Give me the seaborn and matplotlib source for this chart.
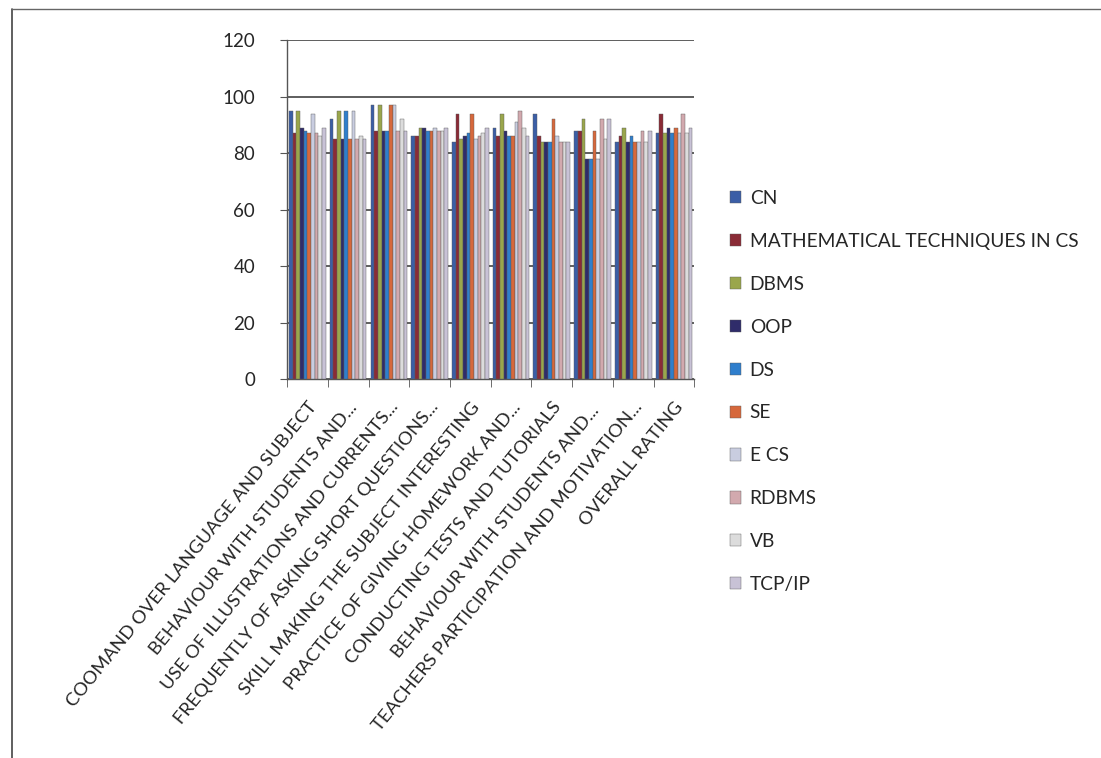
import matplotlib
matplotlib.use("Agg")
import matplotlib.pyplot as plt
from matplotlib.lines import Line2D
import seaborn as sns
import pandas as pd
import numpy as np

# chart values
criteria = [
    "COOMAND OVER LANGUAGE AND SUBJECT",
    "BEHAVIOUR WITH STUDENTS AND...",
    "USE OF ILLUSTRATIONS AND CURRENTS...",
    "FREQUENTLY OF ASKING SHORT QUESTIONS...",
    "SKILL MAKING THE SUBJECT INTERESTING",
    "PRACTICE OF GIVING HOMEWORK AND...",
    "CONDUCTING TESTS AND TUTORIALS",
    "BEHAVIOUR WITH STUDENTS AND... ",
    "TEACHERS PARTICIPATION AND MOTIVATION...",
    "OVERALL RATING",
]
subjects = ["CN", "MATHEMATICAL TECHNIQUES IN CS", "DBMS", "OOP", "DS",
            "SE", "E CS", "RDBMS", "VB", "TCP/IP"]

cn    = [95, 92, 97, 86, 84, 89, 94, 88, 84, 87]
math  = [87, 85, 88, 86, 94, 86, 86, 88, 86, 94]
dbms  = [95, 95, 97, 89, 85, 94, 84, 92, 89, 87]
oop   = [89, 85, 88, 89, 86, 88, 84, 78, 84, 89]
ds    = [88, 95, 88, 88, 87, 86, 84, 78, 86, 87]
se    = [87, 85, 97, 88, 94, 86, 92, 88, 84, 89]
ecs   = [94, 95, 97, 89, 85, 91, 86, 78, 84, 87]
rdbms = [87, 85, 88, 88, 86, 95, 84, 92, 88, 94]
vb    = [86, 86, 92, 88, 87, 89, 84, 85, 84, 87]
tcpip = [89, 85, 88, 89, 89, 86, 84, 92, 88, 89]

yticks = [0, 20, 40, 60, 80, 100, 120]

series = [cn, math, dbms, oop, ds, se, ecs, rdbms, vb, tcpip]
colors = ["#3b5ea6", "#8a2b36", "#9aa64c", "#2f2c6a", "#2f7ecc",
          "#d6683c", "#c9cde0", "#d2a9ae", "#dcdcdc", "#c8c2d6"]

rows = []
for s, vals in zip(subjects, series):
    for c, v in zip(criteria, vals):
        rows.append({"criterion": c, "subject": s, "score": v})
df = pd.DataFrame(rows)

sns.set_style("white")
plt.rcParams['font.family'] = ['Lato', 'DejaVu Sans']

fig = plt.figure(figsize=(11.01, 7.58), dpi=100)
ax = fig.add_axes([0.2607, 0.5, 0.370, 0.447])

sns.barplot(data=df, x="criterion", y="score", hue="subject",
            order=criteria, hue_order=subjects, palette=colors,
            saturation=1, width=0.9, ax=ax, zorder=3,
            edgecolor="#5a5a5a", linewidth=0.3)

ax.set_ylim(0, 120)
ax.set_xlim(-0.5, len(criteria) - 0.5)
ax.set_yticks(yticks)
ax.set_yticklabels([str(t) for t in yticks], fontsize=13.5)
ax.yaxis.grid(True, color="#333333", linewidth=1.1, zorder=0)
ax.set_axisbelow(True)
ax.set_xlabel("")
ax.set_ylabel("")

for s in ["top", "right"]:
    ax.spines[s].set_visible(False)
for s in ["left", "bottom"]:
    ax.spines[s].set_color("#555555")
    ax.spines[s].set_linewidth(1)

ax.tick_params(axis="y", left=True, length=5, color="#555555", pad=18)
ax.set_xticks(range(len(criteria)))
ax.set_xticklabels(criteria, rotation=51, ha="right", rotation_mode="anchor",
                   fontsize=13.3)
ax.tick_params(axis="x", bottom=False, pad=11)
ax.set_xticks(np.arange(-0.5, len(criteria), 1), minor=True)
ax.tick_params(axis="x", which="minor", bottom=True, length=6, color="#555555")

handles, labels = ax.get_legend_handles_labels()
ax.legend(handles, labels, loc="upper left", bbox_to_anchor=(0.647, 0.772),
          bbox_transform=fig.transFigure, frameon=False, fontsize=13.8,
          handlelength=0.6, handleheight=0.6, handletextpad=0.45,
          labelspacing=1.35)

# chart area border from the photo
fig.add_artist(Line2D([12 / 1101, 12 / 1101], [0, 0.988], color="#444444",
                      linewidth=1.2, transform=fig.transFigure))
fig.add_artist(Line2D([12 / 1101, 1], [0.988, 0.988], color="#666666",
                      linewidth=1.0, transform=fig.transFigure))

fig.savefig("out.png", dpi=100)
